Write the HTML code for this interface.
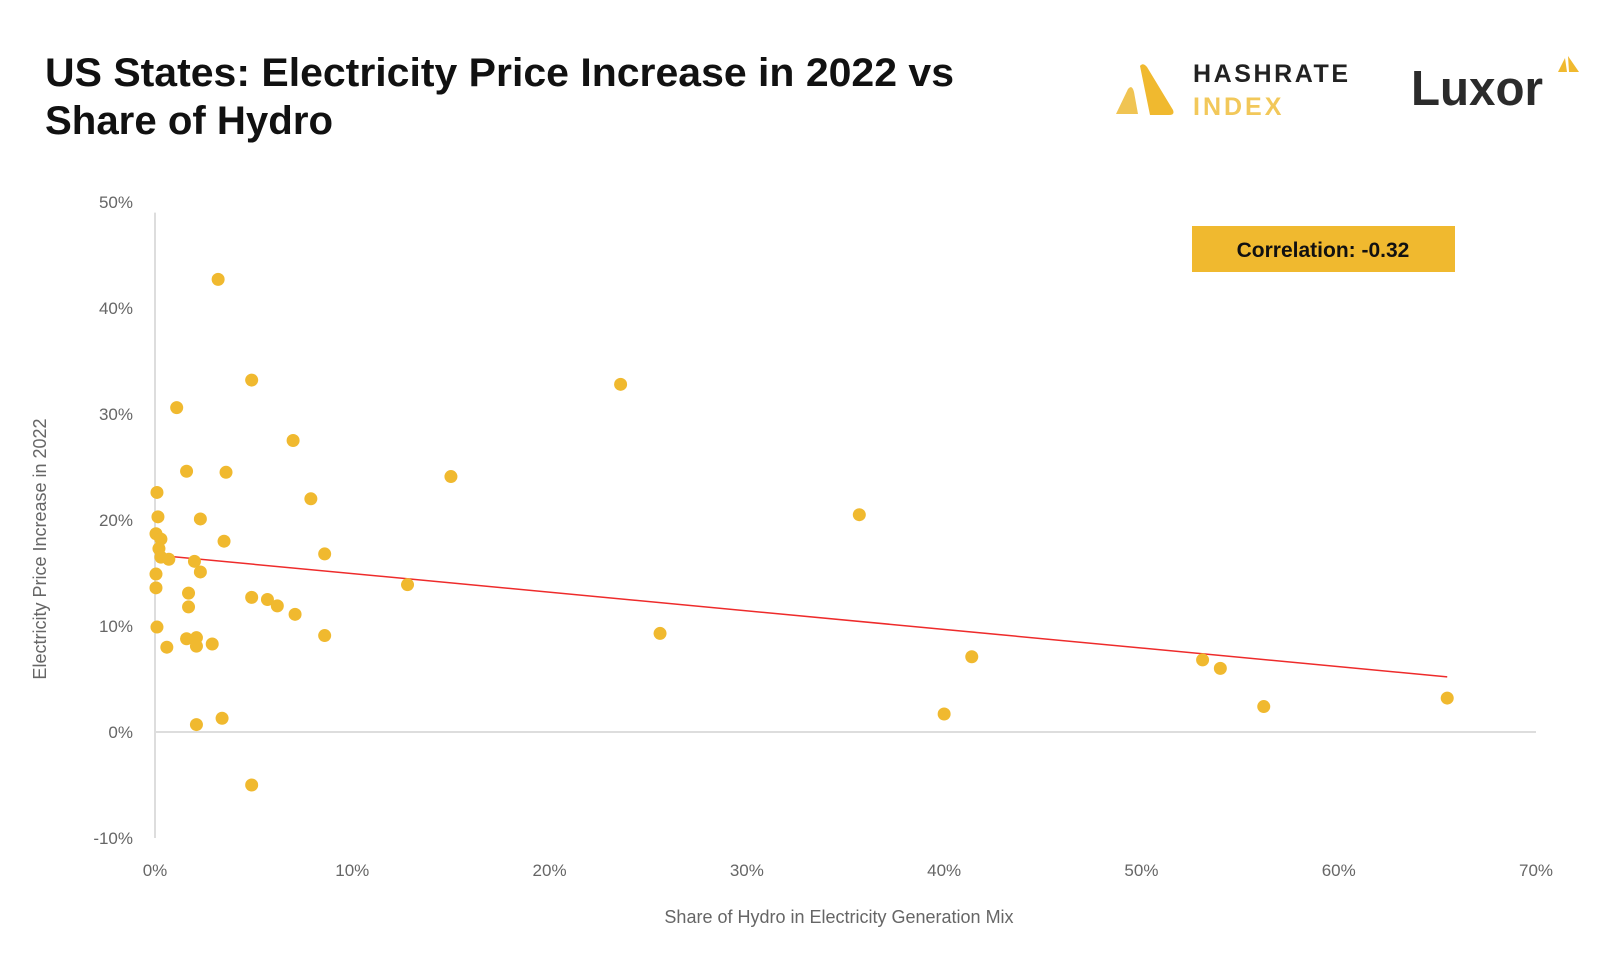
<!DOCTYPE html>
<html><head><meta charset="utf-8"><style>
body{margin:0;background:#fff;width:1624px;height:950px;overflow:hidden;font-family:"Liberation Sans",sans-serif}
</style></head><body>
<svg id="chart" width="1624" height="950" xmlns="http://www.w3.org/2000/svg">
<text x="45" y="86" font-size="40" font-weight="bold" fill="#111" textLength="909" lengthAdjust="spacingAndGlyphs">US States: Electricity Price Increase in 2022 vs</text>
<text x="45" y="134" font-size="40" font-weight="bold" fill="#111" textLength="288" lengthAdjust="spacingAndGlyphs">Share of Hydro</text>
<g>
<path d="M1116 114 L1128 89 Q1132 84 1134 92 L1138 114 Z" fill="#f0c453"/>
<path d="M1140 66 Q1143 62 1147 67 L1173 110 Q1175 115 1169 115 L1150 115 Z" fill="#f0b92f"/>
<text x="1193" y="82" font-size="25" font-weight="bold" letter-spacing="3" fill="#222" textLength="158">HASHRATE</text>
<text x="1193" y="115" font-size="25" font-weight="bold" letter-spacing="3" fill="#f2c85a">INDEX</text>
</g>
<g>
<text x="1411" y="105" font-size="49" font-weight="bold" fill="#2b2b2b" textLength="132" lengthAdjust="spacingAndGlyphs">Luxor</text>
<path d="M1558 72 L1565 58 L1567 72 Z M1569 72 L1568 56 L1579 72 Z" fill="#f0b92f"/>
</g>
<rect x="1192" y="226" width="263" height="46" fill="#f0b92f"/>
<text x="1323" y="257" font-size="21" font-weight="bold" text-anchor="middle" fill="#111">Correlation: -0.32</text>
<g id="axes"></g>
<g id="marks"></g>
<text x="839" y="923" font-size="18" fill="#666" text-anchor="middle">Share of Hydro in Electricity Generation Mix</text>
<text transform="translate(46,549) rotate(-90)" font-size="18" fill="#666" text-anchor="middle">Electricity Price Increase in 2022</text>
</svg>
<script>
const xTicks=[0,10,20,30,40,50,60,70];
const yTicks=[-10,0,10,20,30,40,50];
const hydroShare=[3.2,4.9,1.1,23.6,7.0,1.6,3.6,15.0,0.1,7.9,0.15,2.3,35.7,0.05,0.3,3.5,0.2,0.3,0.7,8.6,2.0,2.3,0.05,0.05,12.8,1.7,1.7,4.9,5.7,6.2,7.1,0.1,8.6,25.6,1.6,2.1,2.1,0.6,2.9,41.4,53.1,54.0,3.4,2.1,40.0,56.2,65.5,4.9];
const priceIncrease=[42.7,33.2,30.6,32.8,27.5,24.6,24.5,24.1,22.6,22.0,20.3,20.1,20.5,18.7,18.2,18.0,17.3,16.5,16.3,16.8,16.1,15.1,14.9,13.6,13.9,13.1,11.8,12.7,12.5,11.9,11.1,9.9,9.1,9.3,8.8,8.9,8.1,8.0,8.3,7.1,6.8,6.0,1.3,0.7,1.7,2.4,3.2,-5.0];
const trendX=[0,65.5];
const trendY=[16.7,5.2];
const NS='http://www.w3.org/2000/svg';
const X=v=>155+(v/70)*(1536-155);
const Y=v=>732-(v/10)*106;
function mk(tag,attrs,parent){const e=document.createElementNS(NS,tag);for(const k in attrs)e.setAttribute(k,attrs[k]);parent.appendChild(e);return e;}
const axes=document.getElementById('axes'),marks=document.getElementById('marks');
let l=mk('line',{x1:X(0),x2:X(0),y1:Y(49),y2:Y(-10),stroke:'#ddd','stroke-width':2},axes);


l=mk('line',{x1:X(0),x2:X(70),y1:Y(0),y2:Y(0),stroke:'#ddd','stroke-width':2},axes);


yTicks.forEach(t=>{const e=mk('text',{x:133,y:Y(t)+6,'font-size':17,fill:'#666','text-anchor':'end'},axes);e.textContent=t+'%';

});
xTicks.forEach(t=>{const e=mk('text',{x:X(t),y:876,'font-size':17,fill:'#666','text-anchor':'middle'},axes);e.textContent=t+'%';

});
l=mk('line',{x1:X(trendX[0]),y1:Y(trendY[0]),x2:X(trendX[1]),y2:Y(trendY[1]),stroke:'#ee2b2b','stroke-width':1.5},marks);


hydroShare.forEach((v,i)=>{const c=mk('circle',{cx:X(v),cy:Y(priceIncrease[i]),r:6.5,fill:'#f0b92f'},marks);

});
</script>
</body></html>
